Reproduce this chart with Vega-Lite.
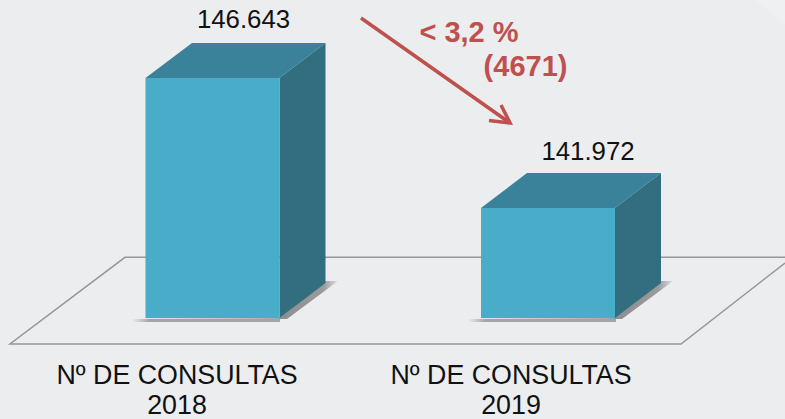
{
"$schema":"https://vega.github.io/schema/vega-lite/v6.json",
"width":785,"height":419,"padding":0,"autosize":{"type":"none"},
"background":"#ECEDEF",
"view":{"stroke":null},
"datasets":{
"corner":[{"pos":755,"consultas":149445.6,"base":149445.6},{"pos":785,"consultas":149445.6,"base":148547.3}],
"floor":[
{"pos":785,"consultas":139995.8,"k":1},{"pos":681,"consultas":137085.4,"k":2},{"pos":10,"consultas":137085.4,"k":3},{"pos":125,"consultas":140200.6,"k":4},{"pos":785,"consultas":140200.6,"k":5}],
"shadowFront":[
{"serie":"2018","pos":132,"consultas":137983.7,"base":137876},{"serie":"2018","pos":280,"consultas":138019.6,"base":137876},
{"serie":"2019","pos":468,"consultas":137983.7,"base":137876},{"serie":"2019","pos":616,"consultas":138019.6,"base":137876}],
"shadowSide":[
{"serie":"2018","pos":279,"consultas":138019.6,"base":137983.7},{"serie":"2018","pos":287,"consultas":138235.2,"base":137983.7},{"serie":"2018","pos":325,"consultas":139349,"base":139000.6},{"serie":"2018","pos":338,"consultas":139349,"base":139349},
{"serie":"2019","pos":614,"consultas":138019.6,"base":137983.7},{"serie":"2019","pos":622,"consultas":138235.2,"base":137983.7},{"serie":"2019","pos":660,"consultas":139349,"base":139000.6},{"serie":"2019","pos":673,"consultas":139349,"base":139349}],
"front":[
{"serie":"2018","pos":145.5,"pos2":279.5,"consultas":146643,"base":138019.6},
{"serie":"2019","pos":481,"pos2":615,"consultas":141972,"base":138019.6}],
"top":[
{"serie":"2018","pos":145.5,"pos2":279.5,"consultas":146643},{"serie":"2018","pos":192,"pos2":325.5,"consultas":147900.6},
{"serie":"2019","pos":481,"pos2":615,"consultas":141972},{"serie":"2019","pos":527,"pos2":661,"consultas":143229.6}],
"side":[
{"serie":"2018","pos":279.5,"consultas":146643,"base":138019.6},{"serie":"2018","pos":325.5,"consultas":147900.6,"base":139277.2},
{"serie":"2019","pos":615,"consultas":141972,"base":138019.6},{"serie":"2019","pos":661,"consultas":143229.6,"base":139277.2}],
"arrow":[
{"part":"shaft","pos":361,"consultas":148798.8,"k":1},{"part":"shaft","pos":510,"consultas":145026,"k":2},
{"part":"head","pos":489,"consultas":145115.9,"k":1},{"part":"head","pos":510,"consultas":145026,"k":2},{"part":"head","pos":501,"consultas":145672.9,"k":3}],
"values":[
{"label":"146.643","pos":243.5,"consultas":148421.6},
{"label":"141.972","pos":588,"consultas":143696.6}],
"categories":[
{"label":"Nº DE CONSULTAS","pos":177,"consultas":135648.2},{"label":"2018","pos":177,"consultas":134570.2},
{"label":"Nº DE CONSULTAS","pos":511,"consultas":135648.2},{"label":"2019","pos":511,"consultas":134570.2}],
"delta":[
{"label":"< 3,2 %","pos":469,"consultas":147947.3},
{"label":"(4671)","pos":525.5,"consultas":146714.9}]
},
"encoding":{
"x":{"field":"pos","type":"quantitative","scale":{"domain":[0,785],"nice":false,"zero":false},"axis":null},
"y":{"field":"consultas","type":"quantitative","scale":{"domain":[134390.6,149445.6],"nice":false,"zero":false},"axis":null}
},
"layer":[
{"data":{"name":"corner"},"mark":{"type":"area","color":"#EFF0F1"},"encoding":{"y2":{"field":"base"}}},
{"data":{"name":"floor"},"mark":{"type":"line","color":"#969696","strokeWidth":1.5,"interpolate":"linear"},"encoding":{"order":{"field":"k","type":"quantitative"}}},
{"data":{"name":"shadowFront"},"mark":{"type":"area","color":{"gradient":"linear","x1":0,"x2":1,"y1":0,"y2":0,"stops":[{"offset":0,"color":"#ECEDEF"},{"offset":0.12,"color":"#A4A4A4"},{"offset":1,"color":"#A4A4A4"}]}},"encoding":{"y2":{"field":"base"},"detail":{"field":"serie"}}},
{"data":{"name":"shadowSide"},"mark":{"type":"area","color":{"gradient":"linear","x1":0,"x2":1,"y1":0,"y2":0,"stops":[{"offset":0,"color":"#8E8E8E"},{"offset":0.75,"color":"#9A9A9A"},{"offset":1,"color":"#DEDEE0"}]}},"encoding":{"y2":{"field":"base"},"detail":{"field":"serie"}}},
{"data":{"name":"top"},"mark":{"type":"area","orient":"horizontal","color":"#3A8299"},"encoding":{"x2":{"field":"pos2"},"detail":{"field":"serie"}}},
{"data":{"name":"side"},"mark":{"type":"area","color":"#326E7F"},"encoding":{"y2":{"field":"base"},"detail":{"field":"serie"}}},
{"data":{"name":"front"},"mark":{"type":"rect","color":"#49ACC8"},"encoding":{"x2":{"field":"pos2"},"y2":{"field":"base"}}},
{"data":{"name":"arrow"},"mark":{"type":"line","color":"#C0504D","strokeWidth":3.5,"strokeCap":"butt","strokeJoin":"miter"},"encoding":{"detail":{"field":"part"},"order":{"field":"k","type":"quantitative"}}},
{"data":{"name":"values"},"mark":{"type":"text","font":"Liberation Sans","fontSize":25.8,"color":"#111111","align":"center","baseline":"alphabetic"},"encoding":{"text":{"field":"label"}}},
{"data":{"name":"categories"},"mark":{"type":"text","font":"Liberation Sans","fontSize":26.8,"color":"#111111","align":"center","baseline":"alphabetic"},"encoding":{"text":{"field":"label"}}},
{"data":{"name":"delta"},"mark":{"type":"text","font":"Liberation Sans","fontSize":29,"fontWeight":"bold","color":"#C0504D","align":"center","baseline":"alphabetic"},"encoding":{"text":{"field":"label"}}}
]
}
